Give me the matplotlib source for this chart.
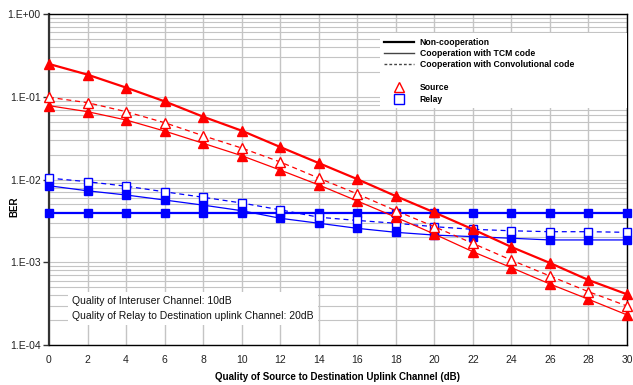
import math
import matplotlib
matplotlib.use("Agg")
import matplotlib.pyplot as plt
from matplotlib.lines import Line2D
from matplotlib.ticker import FixedLocator, FuncFormatter, LogLocator, NullFormatter

plt.rcParams['font.family'] = ['Liberation Sans', 'DejaVu Sans']

snr = [0, 2, 4, 6, 8, 10, 12, 14, 16, 18, 20, 22, 24, 26, 28, 30]

src_noncoop = [0.249, 0.185, 0.129, 0.088, 0.0574, 0.0389, 0.0247, 0.0158, 0.0101,
               0.0063, 0.0040, 0.0025, 0.00153, 0.00098, 0.00061, 0.00041]
src_tcm = [0.078, 0.066, 0.0524, 0.0385, 0.0274, 0.0194, 0.0130, 0.0086, 0.0055,
           0.0035, 0.00219, 0.00134, 0.00086, 0.000546, 0.000357, 0.000231]
src_conv = [0.0985, 0.0848, 0.066, 0.0486, 0.0338, 0.0240, 0.0163, 0.0104, 0.0067,
            0.0042, 0.00269, 0.00169, 0.00106, 0.000682, 0.000441, 0.000296]
relay_noncoop = [0.0039] * 16
relay_tcm = [0.0084, 0.0073, 0.0065, 0.00565, 0.0049, 0.0042, 0.0034, 0.00296, 0.00257,
             0.0023, 0.00213, 0.00204, 0.00195, 0.00186, 0.00186, 0.00186]
relay_conv = [0.0104, 0.0094, 0.0083, 0.0071, 0.0061, 0.0052, 0.0043, 0.0035, 0.0032,
              0.00296, 0.00269, 0.0025, 0.0024, 0.00234, 0.00234, 0.0023]

legend_labels = ["Non-cooperation", "Cooperation with TCM code",
                 "Cooperation with Convolutional code", "Source", "Relay"]
xlabel = "Quality of Source to Destination Uplink Channel (dB)"
ylabel = "BER"
note = "Quality of Interuser Channel: 10dB\nQuality of Relay to Destination uplink Channel: 20dB"

RED = "#FF0000"
BLUE = "#0000FF"

fig = plt.figure(figsize=(6.33, 3.85), dpi=100)
ax = fig.add_axes([49/633, 1-345/385, (627-49)/633, (345-14)/385])
ax.set_yscale('log')
ax.set_xlim(0, 30)
ax.set_ylim(1e-4, 1.0)

# grid
ax.yaxis.set_major_locator(LogLocator(base=10, numticks=10))
ax.yaxis.set_minor_locator(LogLocator(base=10, subs=range(2, 10), numticks=50))
ax.yaxis.set_minor_formatter(NullFormatter())
ax.yaxis.set_major_formatter(FuncFormatter(lambda v, p: "1.E{:+03d}".format(int(round(math.log10(v))))))
ax.xaxis.set_major_locator(FixedLocator(snr))
ax.grid(True, which='both', axis='y', color='#C4C4C4', lw=0.8)
ax.grid(True, which='major', axis='x', color='#C4C4C4', lw=1.0)
ax.set_axisbelow(True)

# source (red)
ax.plot(snr, src_noncoop, color=RED, lw=1.6, marker='^', ms=6.5, mfc=RED, mec=RED,
        zorder=4, clip_on=False)
ax.plot(snr, src_tcm, color=RED, lw=0.9, marker='^', ms=6.5, mfc=RED, mec=RED,
        zorder=4, clip_on=False)
ax.plot(snr, src_conv, color=RED, lw=0.9, ls=(0, (4, 3)), marker='^', ms=6.5,
        mfc='white', mec=RED, mew=1.0, zorder=4, clip_on=False)
# relay (blue)
ax.plot(snr, relay_noncoop, color=BLUE, lw=1.6, marker='s', ms=6, mfc=BLUE, mec=BLUE,
        zorder=3, clip_on=False)
ax.plot(snr, relay_tcm, color=BLUE, lw=0.9, marker='s', ms=6, mfc=BLUE, mec=BLUE,
        zorder=3, clip_on=False)
ax.plot(snr, relay_conv, color=BLUE, lw=0.9, ls=(0, (4, 3)), marker='s', ms=6,
        mfc='white', mec=BLUE, mew=1.0, zorder=3, clip_on=False)

# spines / ticks
for s in ['top', 'right', 'bottom']:
    ax.spines[s].set_color('black')
    ax.spines[s].set_linewidth(1.0)
ax.spines['left'].set_color('#333333')
ax.spines['left'].set_linewidth(1.6)
ax.tick_params(axis='y', which='major', length=4, width=1, color='#333333',
               labelsize=7.5, pad=2, labelcolor='#222222')
ax.tick_params(axis='y', which='minor', length=0)
ax.tick_params(axis='x', which='major', length=0, labelsize=7.5, pad=7, labelcolor='#222222')

ax.set_xlabel(xlabel, fontsize=7, fontweight='bold')
ax.xaxis.set_label_coords(0.5, -0.083)
ax.set_ylabel(ylabel, fontsize=7, fontweight='bold')
ax.yaxis.set_label_coords(-0.052, 0.417)

# annotation
ax.text(0.0398, 0.110, note, transform=ax.transAxes, fontsize=7.5, va='center', ha='left',
        linespacing=1.55, color='#111111',
        bbox=dict(facecolor='white', edgecolor='none', pad=3), zorder=6)

# legend
handles = [
    Line2D([], [], color='black', lw=1.6),
    Line2D([], [], color='#444444', lw=1.0),
    Line2D([], [], color='#444444', lw=1.0, ls=(0, (2, 1.5))),
    Line2D([], [], ls='none'),
    Line2D([], [], ls='none', marker='^', ms=7, mfc='white', mec=RED, mew=1.0),
    Line2D([], [], ls='none', marker='s', ms=7, mfc='white', mec=BLUE, mew=1.0),
]
labels = legend_labels[:3] + [''] + legend_labels[3:]
leg = ax.legend(handles, labels, loc='upper left', bbox_to_anchor=(0.572, 0.0, 0.428, 0.943),
                mode='expand', frameon=True, fancybox=False, framealpha=1,
                handlelength=3.4, handletextpad=0.7, labelspacing=0.28,
                borderpad=0.55, borderaxespad=0.0, prop={'weight': 'bold', 'size': 6.2})
leg.get_frame().set_edgecolor('none')
leg.get_frame().set_facecolor('white')
leg.set_zorder(7)

fig.savefig("out.png", dpi=100)
